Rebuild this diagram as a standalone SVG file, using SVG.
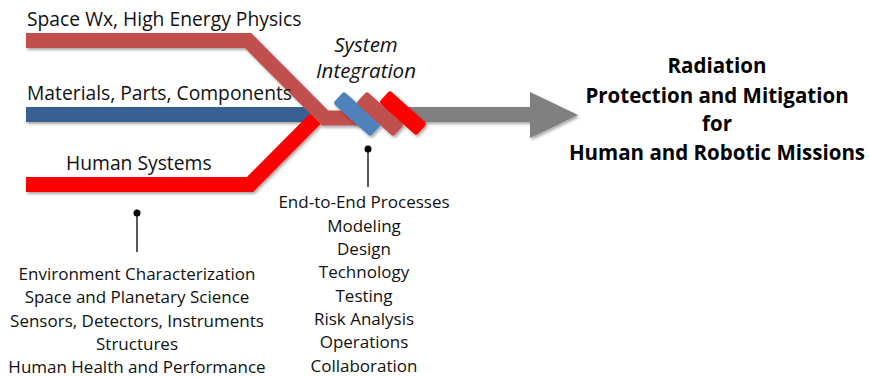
<svg xmlns="http://www.w3.org/2000/svg" width="869" height="377" viewBox="0 0 869 377">
<defs>
<filter id="sh" filterUnits="userSpaceOnUse" x="0" y="0" width="869" height="377">
<feDropShadow dx="1.5" dy="2" stdDeviation="1.5" flood-color="#000" flood-opacity="0.35"/>
</filter>
</defs>
<style>
.t{font-family:"Open Sans","Liberation Sans",sans-serif;font-size:19.3px;fill:#111}
.l{font-family:"Open Sans","Liberation Sans",sans-serif;font-size:17px;fill:#111;text-anchor:middle}
.i{font-family:"Open Sans","Liberation Sans",sans-serif;font-size:20.5px;font-style:italic;fill:#111;text-anchor:middle}
.b{font-family:"Open Sans","Liberation Sans",sans-serif;font-size:20.5px;font-weight:bold;fill:#000;text-anchor:middle}
.band{fill:none;stroke-width:15;stroke-linejoin:miter;stroke-linecap:butt}
.pin{stroke:#222;stroke-width:1.5}
</style>
<g id="output-arrow" filter="url(#sh)">
<rect x="360" y="107" width="172" height="15" fill="#808080"/>
<polygon points="530,92 578,115 530,138" fill="#808080"/>
</g>
<g id="connectors" filter="url(#sh)">
<polyline id="materials-band" class="band" stroke="#376092" points="26,114.5 322,114.5"/>
<polyline id="human-band" class="band" stroke="#FF0000" points="26,184.5 250,184.5 324,110"/>
<polyline id="spacewx-band" class="band" stroke="#C0504D" points="26,40.5 248,40.5 325,118 362,118"/>
</g>
<g id="system-integration" filter="url(#sh)">
<rect x="-25" y="-8" width="50" height="16" rx="2.5" fill="#4F81BD" transform="translate(357,114) rotate(42)"/>
<rect x="-25" y="-8" width="50" height="16" rx="2.5" fill="#C0504D" transform="translate(380,114) rotate(42)"/>
<rect x="-25" y="-8" width="50" height="16" rx="2.5" fill="#FF0000" transform="translate(403,113) rotate(42)"/>
</g>
<g id="label-spacewx"><text class="t" x="27" y="26">Space Wx, High Energy Physics</text></g>
<g id="label-materials"><text class="t" x="27" y="100">Materials, Parts, Components</text></g>
<g id="label-human"><text class="t" x="66" y="170">Human Systems</text></g>
<g id="label-integration">
<text class="i" x="366" y="52">System</text>
<text class="i" x="366" y="78">Integration</text>
</g>
<g id="goal">
<text class="b" x="717" y="73">Radiation</text>
<text class="b" x="717" y="103">Protection and Mitigation</text>
<text class="b" x="717" y="131">for</text>
<text class="b" x="717" y="160">Human and Robotic Missions</text>
</g>
<g id="pin-left">
<line class="pin" x1="137" y1="213" x2="137" y2="252"/>
<circle cx="137" cy="213" r="3.5" fill="#000"/>
</g>
<g id="pin-integration">
<line class="pin" x1="368" y1="149" x2="368" y2="187"/>
<circle cx="368" cy="149" r="3.5" fill="#000"/>
</g>
<g id="list-left">
<text class="l" x="137" y="280">Environment Characterization</text>
<text class="l" x="137" y="303">Space and Planetary Science</text>
<text class="l" x="137" y="327">Sensors, Detectors, Instruments</text>
<text class="l" x="137" y="350">Structures</text>
<text class="l" x="137" y="373">Human Health and Performance</text>
</g>
<g id="list-integration">
<text class="l" x="364" y="208">End-to-End Processes</text>
<text class="l" x="364" y="232">Modeling</text>
<text class="l" x="364" y="255">Design</text>
<text class="l" x="364" y="278">Technology</text>
<text class="l" x="364" y="302">Testing</text>
<text class="l" x="364" y="325">Risk Analysis</text>
<text class="l" x="364" y="348">Operations</text>
<text class="l" x="364" y="372">Collaboration</text>
</g>
</svg>
